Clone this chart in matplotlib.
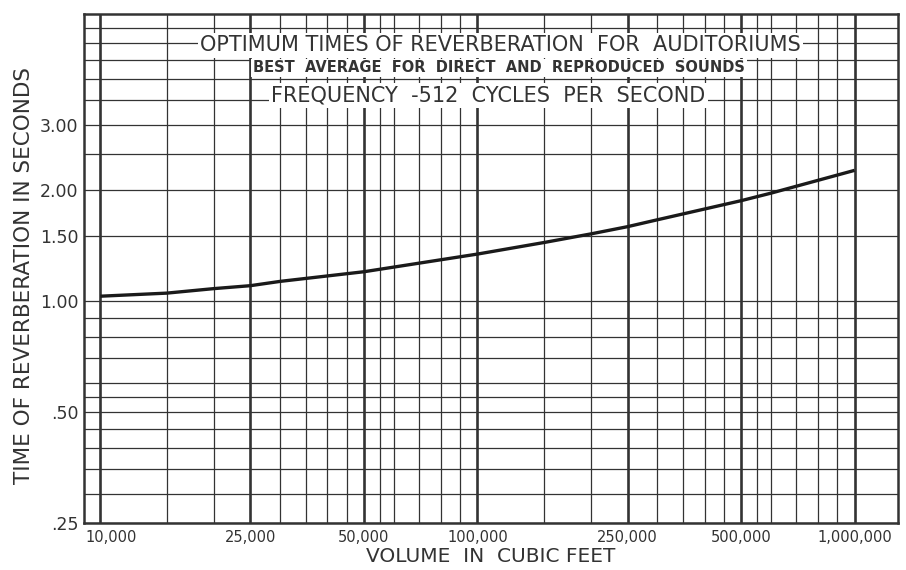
import matplotlib
matplotlib.use('Agg')
import matplotlib.pyplot as plt
import matplotlib.transforms as mtransforms
from matplotlib.ticker import NullFormatter

# Optimum reverberation time vs. room volume (512 cycles per second)
volume = [10000, 15000, 20000, 25000, 30000, 50000, 100000, 150000,
          200000, 250000, 300000, 500000, 600000, 1000000]
rev_time = [1.03, 1.05, 1.08, 1.10, 1.13, 1.20, 1.34, 1.44,
            1.52, 1.59, 1.66, 1.87, 1.96, 2.26]

# labelled (heavy) and light rulings of the log paper
x_major = [10000, 25000, 50000, 100000, 250000, 500000, 1000000]
x_major_labels = ['10,000', '25,000', '50,000', '100,000', '250,000', '500,000', '1,000,000']
x_minor = [15000, 20000, 30000, 35000, 40000, 45000, 55000, 60000, 70000, 80000, 90000,
           150000, 200000, 300000, 350000, 400000, 450000, 550000, 600000, 700000,
           800000, 900000]
y_major = [0.25, 0.5, 1.0, 1.5, 2.0, 3.0]
y_major_labels = ['.25', '.50', '1.00', '1.50', '2.00', '3.00']
y_minor = [0.3, 0.35, 0.4, 0.45, 0.55, 0.6, 0.7, 0.8, 0.9,
           2.5, 3.5, 4.0, 4.5, 5.0, 5.5]

ink = '#333333'
txt = '#333333'

fig = plt.figure(figsize=(9.06, 5.70), dpi=100)
ax = fig.add_axes([0.0927, 0.0825, 0.898, 0.893])

ax.plot(volume, rev_time, color='#1a1a1a', lw=2.4, solid_capstyle='butt', zorder=4)

ax.set_xscale('log')
ax.set_yscale('log')
ax.set_xlim(9050, 1.3e6)
ax.set_ylim(0.25, 6.0)

ax.set_xticks(x_major, x_major_labels)
ax.set_xticks(x_minor, minor=True)
ax.xaxis.set_minor_formatter(NullFormatter())
ax.set_yticks(y_major, y_major_labels)
ax.set_yticks(y_minor, minor=True)
ax.yaxis.set_minor_formatter(NullFormatter())

ax.set_axisbelow(True)
ax.grid(which='major', axis='x', color=ink, lw=1.9)
ax.grid(which='minor', axis='x', color=ink, lw=0.9)
ax.grid(which='both', axis='y', color=ink, lw=0.9)
ax.tick_params(which='both', length=0)
ax.tick_params(axis='y', pad=4, labelsize=12.5, labelcolor=txt)
ax.tick_params(axis='x', pad=5, labelsize=10.5, labelcolor=txt)
for sp in ax.spines.values():
    sp.set_linewidth(1.8)
    sp.set_color(ink)

# keep the first volume label clear of the left border
first = ax.get_xticklabels()[0]
first.set_transform(first.get_transform() +
                    mtransforms.ScaledTranslation(0.11, 0, fig.dpi_scale_trans))

ax.set_xlabel('VOLUME  IN  CUBIC FEET', fontsize=14.5, color=txt)
ax.xaxis.set_label_coords(0.5, -0.048)
ax.set_ylabel('TIME OF REVERBERATION IN SECONDS', fontsize=15.5, color=txt)
ax.yaxis.set_label_coords(-0.062, 0.487)

box = dict(boxstyle='square,pad=0.12', facecolor='white', edgecolor='none')
ax.text(0.512, 0.939, 'OPTIMUM TIMES OF REVERBERATION  FOR  AUDITORIUMS',
        transform=ax.transAxes, ha='center', va='center', fontsize=15,
        color=txt, bbox=box, zorder=5)
ax.text(0.51, 0.894, 'BEST  AVERAGE  FOR  DIRECT  AND  REPRODUCED  SOUNDS',
        transform=ax.transAxes, ha='center', va='center', fontsize=10.5,
        fontweight='bold', color=txt, bbox=box, zorder=6)
ax.text(0.497, 0.839, 'FREQUENCY  -512  CYCLES  PER  SECOND',
        transform=ax.transAxes, ha='center', va='center', fontsize=15,
        color=txt, bbox=box, zorder=5)

fig.savefig('out.png', dpi=100)
